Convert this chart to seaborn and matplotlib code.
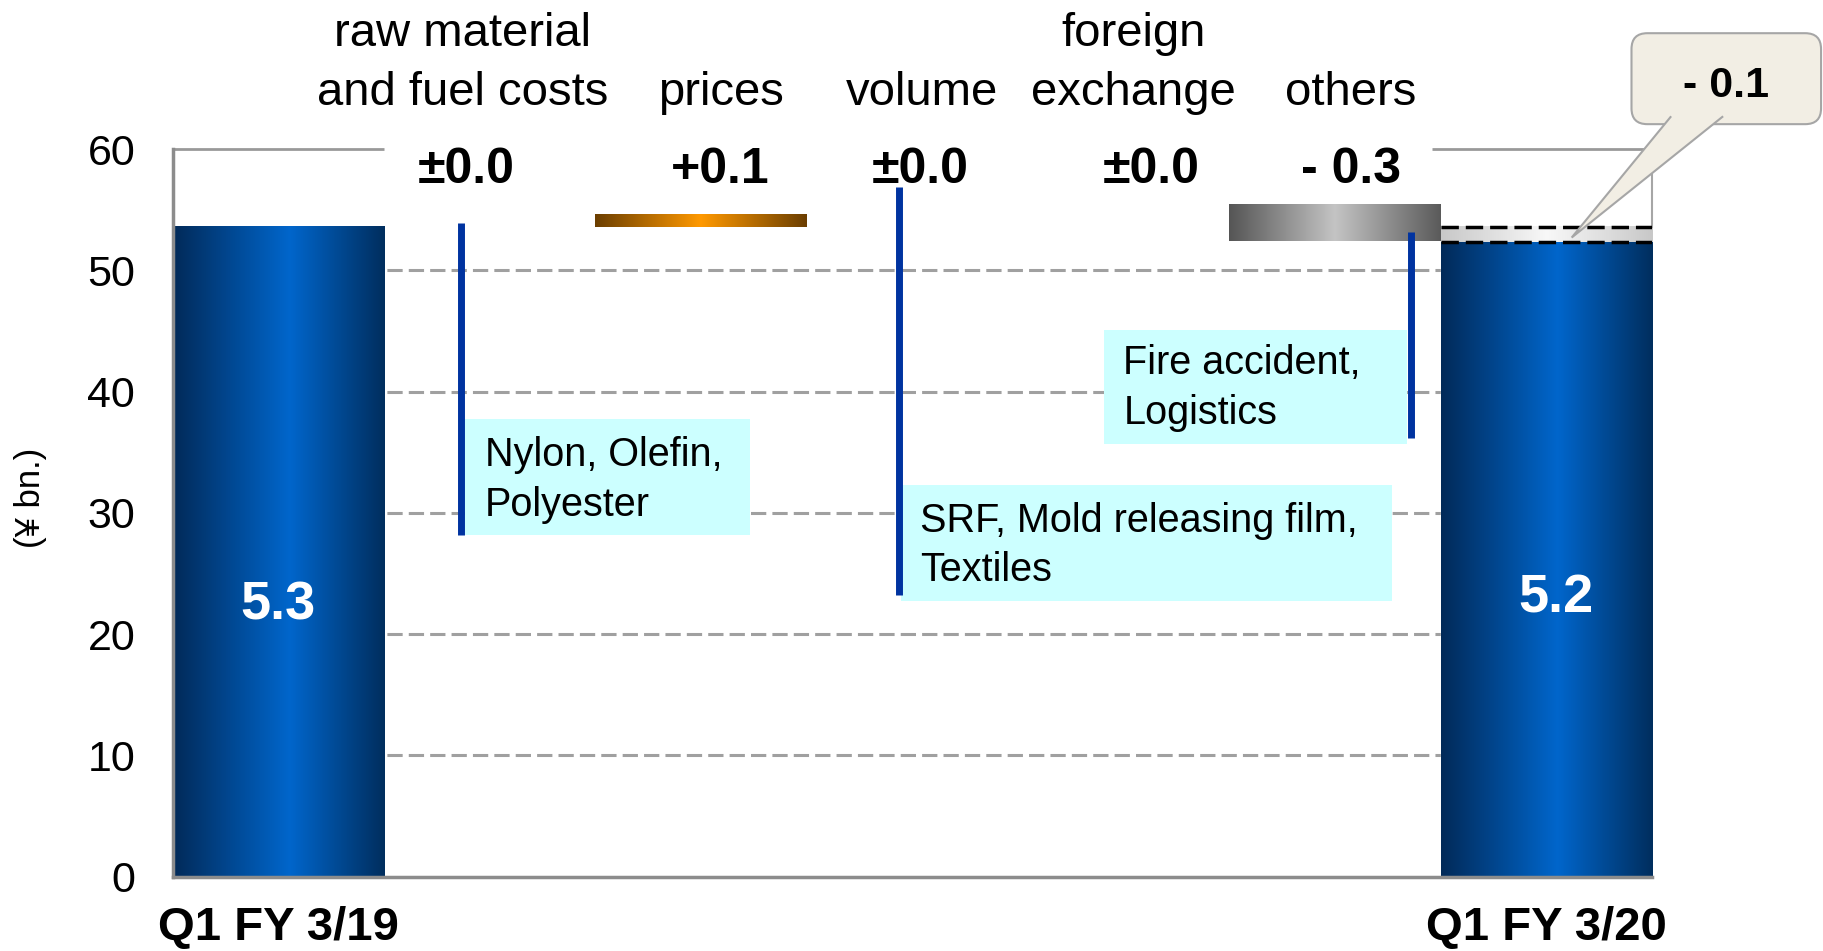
import numpy as np
import pandas as pd
import matplotlib
matplotlib.use("Agg")
import matplotlib.pyplot as plt
import seaborn as sns
from matplotlib.colors import LinearSegmentedColormap
from matplotlib.patches import Rectangle, FancyBboxPatch, Polygon

# --- data ---
categories = ["Q1 FY 3/19", "raw material\nand fuel costs", "prices", "volume",
              "foreign\nexchange", "others", "Q1 FY 3/20"]
change_labels = ["", "±0.0", "+0.1", "±0.0", "±0.0", "- 0.3", ""]

# total bars (axis is in ¥100m, labels in ¥ bn.)
total_cats = ["Q1 FY 3/19", "Q1 FY 3/20"]
total_values = [53.6, 52.3]
total_labels = ["5.3", "5.2"]

# floating change bars
float_cats = ["prices", "others"]
float_bottom = [53.6, 52.4]
float_top = [54.6, 55.4]

# residual block on top of the last bar
residual_bottom = 52.3
residual_top = 53.6
residual_label = "- 0.1"

# notes with their bracket lines
note_texts = ["Nylon, Olefin,\nPolyester",
              "SRF, Mold releasing film,\nTextiles",
              "Fire accident,\nLogistics"]
note_line_top = [53.9, 56.9, 53.15]
note_line_bottom = [28.2, 23.2, 36.2]

# --- style ---
sns.set_style("white")
plt.rcParams["font.family"] = ["Liberation Sans", "DejaVu Sans"]
plt.rcParams["text.color"] = "black"
plt.rcParams["axes.labelcolor"] = "black"

FIG_W, FIG_H = 18.24, 9.51
LEFT, RIGHT, TOP, BOTTOM = 0.0947, 0.9057, 0.8433, 0.0781
fig, ax = plt.subplots(figsize=(FIG_W, FIG_H), dpi=100)
fig.subplots_adjust(left=LEFT, right=RIGHT, top=TOP, bottom=BOTTOM)

blue = ["#022A58", "#0066CC", "#002E5E"]
orange = ["#6B3E00", "#FF9900", "#6B3E00"]
grey = ["#555555", "#C4C4C4", "#5A5A5A"]
light = ["#C8C8C8", "#F8F8F8", "#C8C8C8"]


def gradient_fill(patch, colors, stops=(0, 0.55, 1)):
    cmap = LinearSegmentedColormap.from_list("g", list(zip(stops, colors)))
    x0, y0 = patch.get_x(), patch.get_y()
    w, h = patch.get_width(), patch.get_height()
    grad = np.linspace(0, 1, 256).reshape(1, -1)
    ax.imshow(grad, cmap=cmap, aspect="auto", interpolation="bilinear",
              extent=(x0, x0 + w, y0, y0 + h), zorder=patch.get_zorder() + 0.1)


# totals through seaborn
df_tot = pd.DataFrame({"cat": total_cats, "value": total_values})
sns.barplot(data=df_tot, x="cat", y="value", order=categories, width=1.0,
            color="#0066CC", saturation=1, errorbar=None, ax=ax, zorder=2)
total_patches = list(ax.patches)
for p in total_patches:
    gradient_fill(p, blue)

# floating bars
fx = [categories.index(c) for c in float_cats]
fb = ax.bar(fx, np.array(float_top) - np.array(float_bottom), bottom=float_bottom,
            width=1.0, zorder=2)
gradient_fill(fb.patches[0], orange, (0, 0.5, 1))
gradient_fill(fb.patches[1], grey, (0, 0.5, 1))

# residual block
rb = ax.bar([len(categories) - 1], [residual_top - residual_bottom], bottom=residual_bottom,
            width=1.0, zorder=2)
gradient_fill(rb.patches[0], light, (0, 0.5, 1))
ax.hlines([residual_bottom, residual_top], len(categories) - 1.5, len(categories) - 0.5,
          colors="black", linestyles=(0, (5, 2)), lw=2.5, zorder=5)

# grid and frame
ax.hlines(range(10, 60, 10), -0.5, 6.5, colors="#A0A0A0", linestyles=(0, (5, 2)),
          lw=2.2, zorder=1)
ax.hlines(60, -0.5, 0.5, colors="#999999", lw=2, clip_on=False)
ax.hlines(60, 5.46, 6.5, colors="#999999", lw=2, clip_on=False)

ax.set_xlim(-0.5, 6.5)
ax.set_ylim(0, 60)
ax.set_yticks(range(0, 61, 10))
ax.tick_params(axis="y", direction="in", length=10, width=2.5, color="#8C8C8C",
               labelcolor="black", labelsize=31, pad=27)
ax.set_xticks(range(len(categories)))
ax.set_xticklabels([c if c in total_cats else "" for c in categories],
                   fontsize=34, fontweight="bold")
ax.tick_params(axis="x", length=0, pad=21, labelcolor="black")
ax.set_xlabel("")
ax.set_ylabel("(¥ bn.)", fontsize=25, color="black")
ax.yaxis.set_label_coords(-0.085, 0.52)

ax.spines["top"].set_visible(False)
for s in ["left", "bottom"]:
    ax.spines[s].set_color("#8C8C8C")
    ax.spines[s].set_linewidth(2.5)
ax.spines["right"].set_bounds(residual_top, 60)
ax.spines["right"].set_color("#A6A6A6")
ax.spines["right"].set_linewidth(1.5)

# headers and change values
header_x = [None, 0.873, 2.095, 3.044, 4.048, 5.075, None]
value_x = [None, 0.89, 2.09, 3.035, 4.13, 5.077, None]
for i, cat in enumerate(categories):
    if header_x[i] is None:
        continue
    ax.text(header_x[i], 62.8, cat, ha="center", va="bottom", fontsize=34,
            linespacing=1.45, color="black")
    ax.text(value_x[i], 58.3, change_labels[i], ha="center", va="center",
            fontsize=36, fontweight="bold", color="black", zorder=6)

# labels inside the totals
label_y = [22.4, 22.9]
label_dx = [0.0, 0.047]
for p, lab, ly, dx in zip(total_patches, total_labels, label_y, label_dx):
    ax.text(p.get_x() + p.get_width() / 2 + dx, ly, lab, ha="center", va="center",
            color="white", fontsize=39, fontweight="bold", zorder=6)

# notes
note_boxes = [(0.884, 28.16, 2.232, 37.75), (2.948, 22.7, 5.27, 32.28),
              (3.905, 35.7, 5.34, 45.1)]
note_text_pos = [(0.978, 32.7), (3.036, 27.3), (3.999, 40.3)]
note_line_x = [0.862, 2.937, 5.358]
for txt, (x0, y0, x1, y1), (tx, ty), lx, lt, lb in zip(
        note_texts, note_boxes, note_text_pos, note_line_x, note_line_top, note_line_bottom):
    ax.add_patch(Rectangle((x0, y0), x1 - x0, y1 - y0, fc="#CCFFFF", ec="none", zorder=3))
    ax.text(tx, ty, txt, ha="left", va="center", fontsize=28.5, linespacing=1.38,
            color="black", zorder=4)
    ax.vlines(lx, lb, lt, colors="#0033A0", lw=5, zorder=4)

# callout for the residual
px_x = FIG_W * 100 * (RIGHT - LEFT) / 7
px_y = FIG_H * 100 * (TOP - BOTTOM) / 60
box_x0, box_x1, box_y0, box_y1 = 6.403, 7.30, 62.05, 69.55
call_fc, call_ec = "#F2EEE4", "#A6A6A6"
ax.add_patch(FancyBboxPatch((box_x0, box_y0), box_x1 - box_x0, box_y1 - box_y0,
                            boxstyle="round,pad=0,rounding_size=0.075",
                            mutation_aspect=px_x / px_y, fc=call_fc, ec=call_ec,
                            lw=1.5, clip_on=False, zorder=10))
tip = (6.12, 52.7)
bases = [6.56, 6.79]
ext = 62.7
pts = [(tip[0] + (bases[0] - tip[0]) * (ext - tip[1]) / (box_y0 - tip[1]), ext), tip,
       (tip[0] + (bases[1] - tip[0]) * (ext - tip[1]) / (box_y0 - tip[1]), ext)]
ax.add_patch(Polygon(pts, closed=False, fc=call_fc, ec=call_ec, lw=1.5,
                     clip_on=False, zorder=11))
ax.text((box_x0 + box_x1) / 2, 65.2, residual_label, ha="center", va="center",
        fontsize=31, fontweight="bold", color="black", zorder=12)

fig.savefig("out.png", dpi=100)
